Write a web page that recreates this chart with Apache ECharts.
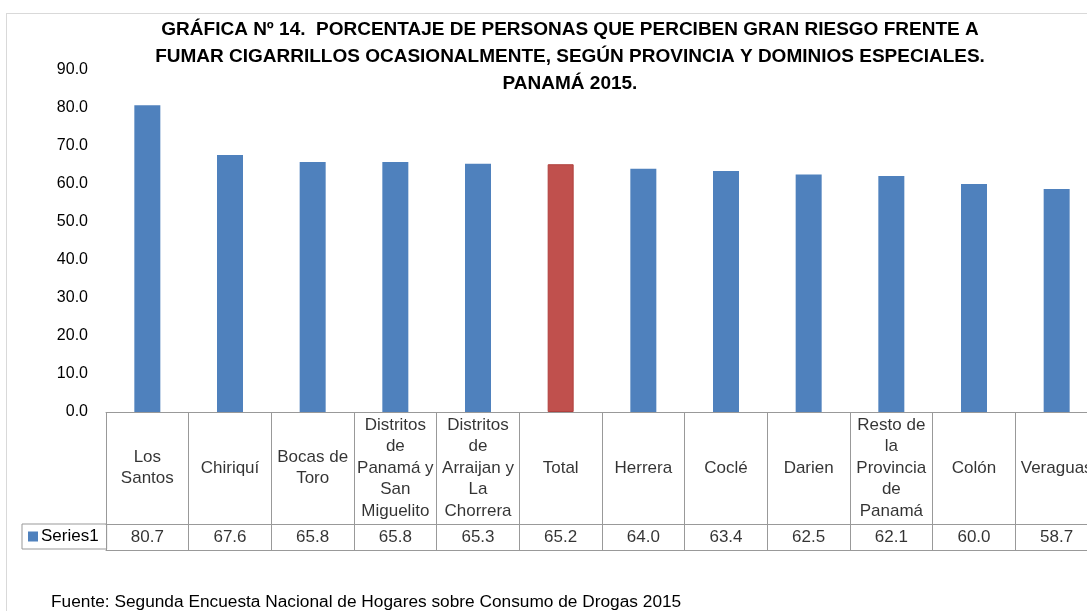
<!DOCTYPE html>
<html>
<head>
<meta charset="utf-8">
<script src="https://cdn.jsdelivr.net/npm/echarts@6/dist/echarts.min.js"></script>
<style>
  html, body { margin: 0; padding: 0; overflow: hidden; background: #fff; }
  #frame { position: absolute; left: 6px; top: 13px; width: 1200px; height: 700px; border: 1px solid #d9d9d9; }
  #chart { position: absolute; left: 0; top: 0; width: 1100px; height: 611px; }
</style>
</head>
<body>
<div id="frame"></div>
<div id="chart"></div>
<script>
const categories = [
    'Los\nSantos', 'Chiriquí', 'Bocas de\nToro', 'Distritos\nde\nPanamá y\nSan\nMiguelito',
    'Distritos\nde\nArraijan y\nLa\nChorrera', 'Total', 'Herrera', 'Coclé', 'Darien',
    'Resto de\nla\nProvincia\nde\nPanamá', 'Colón', 'Veraguas'
];
const values = [80.7, 67.6, 65.8, 65.8, 65.3, 65.2, 64.0, 63.4, 62.5, 62.1, 60.0, 58.7];
const highlight = 'Total';
const yTicks = { min: 0, max: 90, interval: 10 };

const font = 'Liberation Sans';
const lineColor = '#999';
const blue = '#4F81BD';
const red = '#C0504D';

const chart = echarts.init(document.getElementById('chart'));

const gridLeft = 106;
const gridWidth = 992;

// one cell per category in the table rows
const middle = categories.map((c) => [c, 0.5]);

const option = {
    animation: false,
    textStyle: { fontFamily: font },
    title: [
        {
            text: 'GRÁFICA Nº 14.  PORCENTAJE DE PERSONAS QUE PERCIBEN GRAN RIESGO FRENTE A\nFUMAR CIGARRILLOS OCASIONALMENTE, SEGÚN PROVINCIA Y DOMINIOS ESPECIALES.\nPANAMÁ 2015.',
            left: 565,
            textAlign: 'center',
            top: 11,
            textStyle: { fontFamily: font, fontSize: 19, fontWeight: 'bold', color: '#000', lineHeight: 27 },
        },
        {
            text: 'Fuente: Segunda Encuesta Nacional de Hogares sobre Consumo de Drogas 2015',
            left: 46,
            top: 589,
            textStyle: { fontFamily: font, fontSize: 17.3, fontWeight: 'normal', color: '#000' },
        },
    ],
    legend: {
        data: ['Series1'],
        left: 22,
        top: 524,
        orient: 'horizontal',
        itemWidth: 10,
        itemHeight: 10,
        itemGap: 0,
        icon: 'rect',
        padding: [4, 8, 4, 6],
        borderColor: lineColor,
        borderWidth: 1,
        textStyle: { fontFamily: font, fontSize: 17, color: '#000', padding: [0, 0, 0, -2] },
        selectedMode: false,
    },
    grid: [
        { left: gridLeft, top: 70, width: gridWidth, height: 342 },
        { left: gridLeft, top: 412, width: gridWidth, height: 112 },
        { left: gridLeft, top: 524, width: gridWidth, height: 26 },
    ],
    xAxis: [0, 1, 2].map((i) => ({
        type: 'category',
        gridIndex: i,
        data: categories,
        axisLine: { show: true, lineStyle: { color: lineColor } },
        axisTick: { show: false },
        axisLabel: { show: false },
        splitLine: { show: i > 0, lineStyle: { color: lineColor, width: 1 } },
    })),
    yAxis: [
        {
            type: 'value',
            gridIndex: 0,
            min: yTicks.min,
            max: yTicks.max,
            interval: yTicks.interval,
            axisLine: { show: false },
            axisTick: { show: false },
            splitLine: { show: false },
            axisLabel: {
                margin: 18,
                fontSize: 16,
                color: '#000',
                fontFamily: font,
                formatter: (v) => v.toFixed(1),
            },
        },
        { type: 'value', gridIndex: 1, min: 0, max: 1, show: false },
        { type: 'value', gridIndex: 2, min: 0, max: 1, show: false },
    ],
    series: [
        {
            name: 'Series1',
            type: 'bar',
            xAxisIndex: 0,
            yAxisIndex: 0,
            barWidth: 26,
            itemStyle: { color: blue },
            data: values.map((v, i) => categories[i] === highlight
                ? { value: v, itemStyle: { color: red, borderColor: '#b0403d', borderWidth: 1 } }
                : v),
        },
        {
            name: 'labels',
            type: 'scatter',
            xAxisIndex: 1,
            yAxisIndex: 1,
            symbolSize: 0,
            silent: true,
            data: middle,
            label: {
                show: true,
                position: 'inside',
                formatter: (p) => p.value[0],
                fontSize: 17,
                lineHeight: 21.5,
                color: '#000',
                fontFamily: font,
            },
        },
        {
            name: 'values',
            type: 'scatter',
            xAxisIndex: 2,
            yAxisIndex: 2,
            symbolSize: 0,
            silent: true,
            data: middle,
            label: {
                show: true,
                position: 'inside',
                formatter: (p) => values[p.dataIndex].toFixed(1),
                fontSize: 17,
                color: '#000',
                fontFamily: font,
            },
        },
    ],
};

chart.setOption(option);
</script>
</body>
</html>
